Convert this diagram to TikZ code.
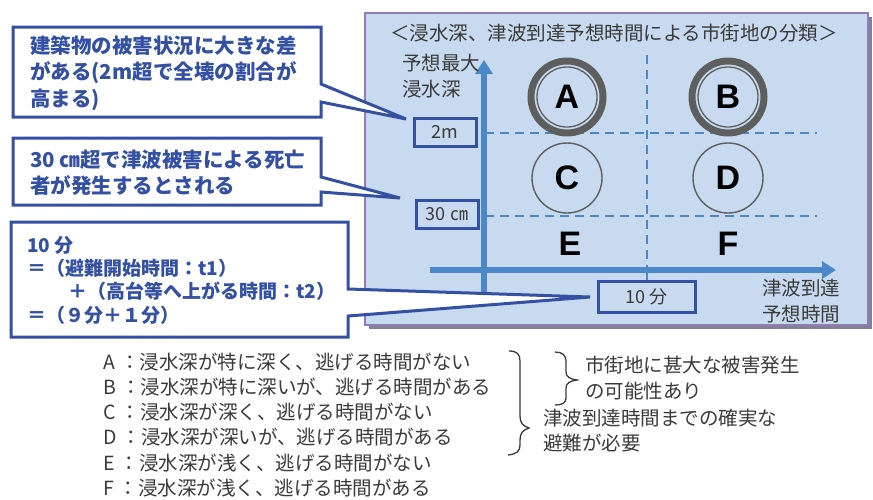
\documentclass[tikz,border=0pt]{standalone}
\usepackage{fontspec}
\setmainfont{Noto Sans CJK JP}
\newfontfamily\latf{Liberation Sans}
\usetikzlibrary{arrows.meta}
\definecolor{panelfill}{HTML}{C7DAEF}
\definecolor{panelborder}{HTML}{8F7DB3}
\definecolor{shadowc}{HTML}{857E98}
\definecolor{boxblue}{HTML}{3350A3}
\definecolor{axisblue}{HTML}{4A88CA}
\definecolor{ringgray}{HTML}{5E5E5E}
\definecolor{txtgray}{HTML}{3A3A3A}
\begin{document}
\begin{tikzpicture}[x=1pt,y=-1pt,
  callout/.style={draw=boxblue, line width=3pt, fill=white, line join=miter},
  btxt/.style={anchor=west, inner sep=0pt, text=boxblue, font=\fontsize{20.5}{24}\selectfont\bfseries},
  ltxt/.style={anchor=west, inner sep=0pt, text=txtgray, font=\fontsize{19.5}{23}\selectfont},
  valbox/.style={draw=boxblue, line width=3pt, inner sep=0pt, text=txtgray, font=\fontsize{18}{22}\selectfont},
  letter/.style={inner sep=0pt, text=black, font=\latf\bfseries\fontsize{34}{34}\selectfont},
  thickring/.style={circle, draw=ringgray, line width=7pt, minimum size=72pt},
  thinring/.style={circle, draw=ringgray, line width=1.4pt, minimum size=70pt},
  axisline/.style={axisblue, line width=6pt, -{Triangle[length=14pt,width=17pt]}},
  gridline/.style={axisblue, line width=1.8pt, dash pattern=on 9pt off 6pt},
  bracec/.style={draw=txtgray, line width=1.3pt}
]
\useasboundingbox (0,0) rectangle (873,499);

% panel
\fill[shadowc] (369,17) rectangle (872,329);
\filldraw[fill=panelfill, draw=panelborder, line width=2pt] (365,13) rectangle (868,325);
\node[ltxt, anchor=center] (title) at (614,33) {＜浸水深、津波到達予想時間による市街地の分類＞};

% grid
\coordinate (vtop) at (647,55);
\coordinate (vbot) at (647,280);
\coordinate (h1l) at (485,133);
\coordinate (h1r) at (817,133);
\coordinate (h2l) at (485,216);
\coordinate (h2r) at (817,216);
\draw[gridline] (vtop) -- (647,268);
\draw[axisblue, line width=1.8pt] (647,268) -- (vbot);
\draw[gridline] (h1l) -- (h1r);
\draw[gridline] (h2l) -- (h2r);

% axes
\coordinate (yb) at (484,292);
\coordinate (yt) at (484,60);
\coordinate (xl) at (430,270);
\coordinate (xr) at (836,270);
\draw[axisline] (yb) -- (yt);
\draw[axisline] (xl) -- (xr);

\node[ltxt] (yl1) at (402,63) {予想最大};
\node[ltxt] (yl2) at (402,89) {浸水深};
\node[ltxt] (xl1) at (762,288) {津波到達};
\node[ltxt] (xl2) at (762,314) {予想時間};

% value boxes
\node[valbox, minimum width=62pt, minimum height=28pt] (v2m) at (445,132) {2m};
\node[valbox, minimum width=62pt, minimum height=28pt] (v30) at (447,214) {30 ㎝};
\node[valbox, minimum width=97pt, minimum height=31pt] (v10) at (646.5,296.5) {10 分};

% circles
\node[thickring] (A) at (567,97) {};
\draw[ringgray, line width=1.3pt] (A.center) circle (30);
\node[letter] (Al) at (A.center) {A};
\node[thickring] (B) at (728,97) {};
\draw[ringgray, line width=1.3pt] (B.center) circle (30);
\node[letter] (Bl) at (B.center) {B};
\node[thinring] (C) at (567,178) {};
\node[letter] (Cl) at (C.center) {C};
\node[thinring] (D) at (728,178) {};
\node[letter] (Dl) at (D.center) {D};
\node[letter] (E) at (570,244) {E};
\node[letter] (F) at (728,244) {F};

% callouts
\coordinate (t1) at (406,119);
\coordinate (t2) at (400,198);
\coordinate (t3) at (590,297);
\draw[callout] (13,27) -- (321,27) -- (321,84) -- (t1) -- (321,102) -- (321,117) -- (13,117) -- cycle;
\draw[callout] (13,138) -- (321,138) -- (321,177) -- (t2) -- (321,192) -- (321,205) -- (13,205) -- cycle;
\draw[callout] (11,222) -- (348,222) -- (348,289) -- (t3) -- (348,316) -- (348,337) -- (11,337) -- cycle;

\node[btxt] (c1a) at (30,46) {建築物の被害状況に大きな差};
\node[btxt] (c1b) at (30,73) {がある(2m超で全壊の割合が};
\node[btxt] (c1c) at (30,100) {高まる)};
\node[btxt] (c2a) at (30,160) {30 ㎝超で津波被害による死亡};
\node[btxt] (c2b) at (30,186) {者が発生するとされる};
\node[btxt, font=\fontsize{19}{23}\selectfont\bfseries] (c3a) at (27,245) {10 分};
\node[btxt, font=\fontsize{19}{23}\selectfont\bfseries] (c3b) at (27,268) {＝（避難開始時間：t1）};
\node[btxt, font=\fontsize{19}{23}\selectfont\bfseries] (c3c) at (68,291) {＋（高台等へ上がる時間：t2）};
\node[btxt, font=\fontsize{19}{23}\selectfont\bfseries] (c3d) at (27,315) {＝（９分＋１分）};

% legend
\node[ltxt] (la) at (103,362) {A\hspace{5pt}：浸水深が特に深く、逃げる時間がない};
\node[ltxt] (lb) at (103,387) {B\hspace{5pt}：浸水深が特に深いが、逃げる時間がある};
\node[ltxt] (lc) at (103,412) {C\hspace{5pt}：浸水深が深く、逃げる時間がない};
\node[ltxt] (ld) at (103,437) {D\hspace{5pt}：浸水深が深いが、逃げる時間がある};
\node[ltxt] (le) at (103,463) {E\hspace{5pt}：浸水深が浅く、逃げる時間がない};
\node[ltxt] (lf) at (103,488) {F\hspace{5pt}：浸水深が浅く、逃げる時間がある};

% braces
\draw[bracec] (509,351) .. controls (517,351) and (520,354) .. (520,361) -- (520,416)
  .. controls (520,423) and (523,426) .. (529,428)
  .. controls (523,430) and (520,433) .. (520,440) -- (520,445)
  .. controls (520,451) and (517,454) .. (508,455);
\draw[bracec] (555,352) .. controls (562,352) and (566,355) .. (566,361) -- (566,372)
  .. controls (566,377) and (570,379) .. (577,380)
  .. controls (570,381) and (566,383) .. (566,388) -- (566,398)
  .. controls (566,403) and (562,405) .. (555,405);

\node[ltxt] (r1) at (585,365) {市街地に甚大な被害発生};
\node[ltxt] (r2) at (585,391) {の可能性あり};
\node[ltxt] (r3) at (543,418) {津波到達時間までの確実な};
\node[ltxt] (r4) at (543,443) {避難が必要};
\end{tikzpicture}
\end{document}
